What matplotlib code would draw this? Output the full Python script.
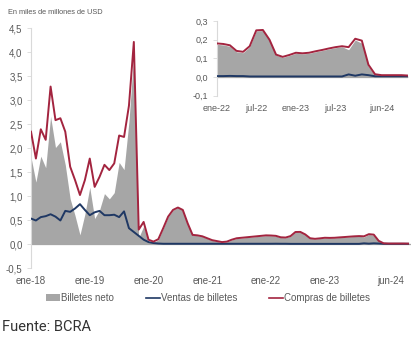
import matplotlib
matplotlib.use("Agg")
import matplotlib.pyplot as plt
from matplotlib.patches import Patch
from matplotlib.lines import Line2D
import numpy as np

# Monthly data, ene-2018 .. jun-2024 (78 months), miles de millones de USD
compras = [2.34, 1.78, 2.39, 2.17, 3.28, 2.58, 2.62, 2.34, 1.61, 1.33, 1.02, 1.33,
           1.78, 1.19, 1.40, 1.65, 1.54, 1.68, 2.26, 2.23, 2.88, 4.21, 0.30, 0.46,
           0.09, 0.05, 0.10, 0.33, 0.57, 0.71, 0.76, 0.71, 0.43, 0.19, 0.18, 0.16,
           0.12, 0.08, 0.06, 0.04, 0.05, 0.09, 0.12, 0.13, 0.14, 0.15, 0.16, 0.17,
           0.180, 0.177, 0.170, 0.140, 0.135, 0.165, 0.250, 0.252, 0.200, 0.120, 0.108, 0.118,
           0.130, 0.127, 0.130, 0.138, 0.145, 0.153, 0.160, 0.165, 0.160, 0.205, 0.195, 0.066,
           0.015, 0.010, 0.010, 0.010, 0.010, 0.008]
ventas = [0.53, 0.49, 0.56, 0.58, 0.62, 0.57, 0.49, 0.69, 0.67, 0.74, 0.83, 0.71,
          0.60, 0.66, 0.69, 0.60, 0.60, 0.61, 0.56, 0.68, 0.33, 0.25, 0.17, 0.09,
          0.04, 0.02, 0.01, 0.005, 0.005, 0.005, 0.005, 0.005, 0.005, 0.005, 0.005, 0.005,
          0.005, 0.005, 0.005, 0.005, 0.005, 0.005, 0.005, 0.005, 0.005, 0.005, 0.005, 0.005,
          0.005, 0.005, 0.006, 0.005, 0.005, 0.003, 0.003, 0.003, 0.003, 0.003, 0.003, 0.003,
          0.003, 0.003, 0.003, 0.003, 0.003, 0.003, 0.003, 0.003, 0.014, 0.007, 0.014, 0.010,
          0.004, 0.004, 0.004, 0.004, 0.004, 0.004]
neto = [1.81, 1.29, 1.83, 1.59, 2.66, 2.01, 2.13, 1.65, 0.94, 0.59, 0.19, 0.62,
        1.18, 0.53, 0.71, 1.05, 0.94, 1.07, 1.70, 1.55, 2.55, 3.96, 0.13, 0.37,
        0.05, 0.03, 0.09, 0.325, 0.565, 0.705, 0.755, 0.705, 0.425, 0.185, 0.175, 0.155,
        0.115, 0.075, 0.055, 0.035, 0.045, 0.085, 0.115, 0.125, 0.135, 0.145, 0.155, 0.165,
        0.175, 0.172, 0.164, 0.135, 0.130, 0.162, 0.247, 0.249, 0.197, 0.117, 0.105, 0.115,
        0.127, 0.124, 0.127, 0.135, 0.142, 0.150, 0.157, 0.162, 0.146, 0.198, 0.181, 0.056,
        0.011, 0.006, 0.006, 0.006, 0.006, 0.004]

main_tick_pos = [0, 12, 24, 36, 48, 60, 73.5]
main_tick_lab = ["ene-18", "ene-19", "ene-20", "ene-21", "ene-22", "ene-23", "jun-24"]
main_yticks = [-0.5, 0.0, 0.5, 1.0, 1.5, 2.0, 2.5, 3.0, 3.5, 4.0, 4.5]

inset_start = 48
inset_tick_pos = [0, 6, 12, 18, 25]
inset_tick_lab = ["ene-22", "jul-22", "ene-23", "jul-23", "jun-24"]
inset_yticks = [-0.1, 0.0, 0.1, 0.2, 0.3]

GRAY = "#a6a6a6"
BLUE = "#1f3864"
RED = "#a3243f"
TXT = "#595959"
FONT = "Liberation Sans"

def fmt(v, nd):
    return f"{v:.{nd}f}".replace(".", ",")

def style(ax, yt, nd, xpos, xlab, fs):
    for s in ["top", "right", "bottom"]:
        ax.spines[s].set_visible(False)
    ax.spines["left"].set_color("#d9d9d9")
    ax.spines["left"].set_linewidth(0.8)
    ax.axhline(0, color="#a6a6a6", lw=0.9, zorder=1)
    ax.set_yticks(yt)
    ax.set_yticklabels([fmt(v, nd) for v in yt], fontsize=fs, color=TXT, family=FONT)
    ax.tick_params(axis="y", length=3, width=0.6, color="#d9d9d9", pad=3)
    ax.set_xticks(xpos)
    ax.set_xticklabels(xlab, fontsize=fs, color=TXT, family=FONT)
    ax.tick_params(axis="x", length=0, pad=6)

fig = plt.figure(figsize=(4.2, 3.5), dpi=100)
fig.patch.set_facecolor("white")

x = np.arange(len(compras))
ax = fig.add_axes([31 / 420, 1 - 268 / 350, 380 / 420, 240 / 350])
ax.fill_between(x, 0, neto, color=GRAY, lw=0, zorder=2)
ax.plot(x, ventas, color=BLUE, lw=1.4, zorder=3)
ax.plot(x, compras, color=RED, lw=1.4, zorder=4)
ax.set_xlim(0, 77.6)
ax.set_ylim(-0.5, 4.5)
style(ax, main_yticks, 1, main_tick_pos, main_tick_lab, 7)

# inset
xi = np.arange(len(compras) - inset_start)
axi = fig.add_axes([216.7 / 420, 1 - 95.7 / 350, 191.3 / 420, 74.7 / 350])
axi.patch.set_alpha(0)
axi.fill_between(xi, 0, neto[inset_start:], color=GRAY, lw=0, zorder=2)
axi.plot(xi, ventas[inset_start:], color=BLUE, lw=1.4, zorder=3)
axi.plot(xi, compras[inset_start:], color=RED, lw=1.4, zorder=4)
axi.set_xlim(0, 29)
axi.set_ylim(-0.1, 0.3)
style(axi, inset_yticks, 1, inset_tick_pos, inset_tick_lab, 6.5)

fig.text(8 / 420, 1 - 13 / 350, "En miles de millones de USD", fontsize=5.3,
         color=TXT, family=FONT, va="center", ha="left")

handles = [Patch(facecolor=GRAY, edgecolor="none"),
           Line2D([], [], color=BLUE, lw=1.2),
           Line2D([], [], color=RED, lw=1.2)]
labels = ["Billetes neto", "Ventas de billetes", "Compras de billetes"]
leg = fig.legend(handles, labels, loc="center", bbox_to_anchor=(208 / 420, 1 - 298 / 350),
                 ncol=3, frameon=False, fontsize=7, handlelength=1.4, handleheight=0.6,
                 handletextpad=0.1, columnspacing=3.3, prop={"family": FONT, "size": 7})
for t in leg.get_texts():
    t.set_color(TXT)

fig.text(2 / 420, 1 - 327 / 350, "Fuente: BCRA", fontsize=10.5, color="#333333",
         family="Roboto", va="center", ha="left")

fig.savefig("out.png", dpi=100, facecolor="white")
